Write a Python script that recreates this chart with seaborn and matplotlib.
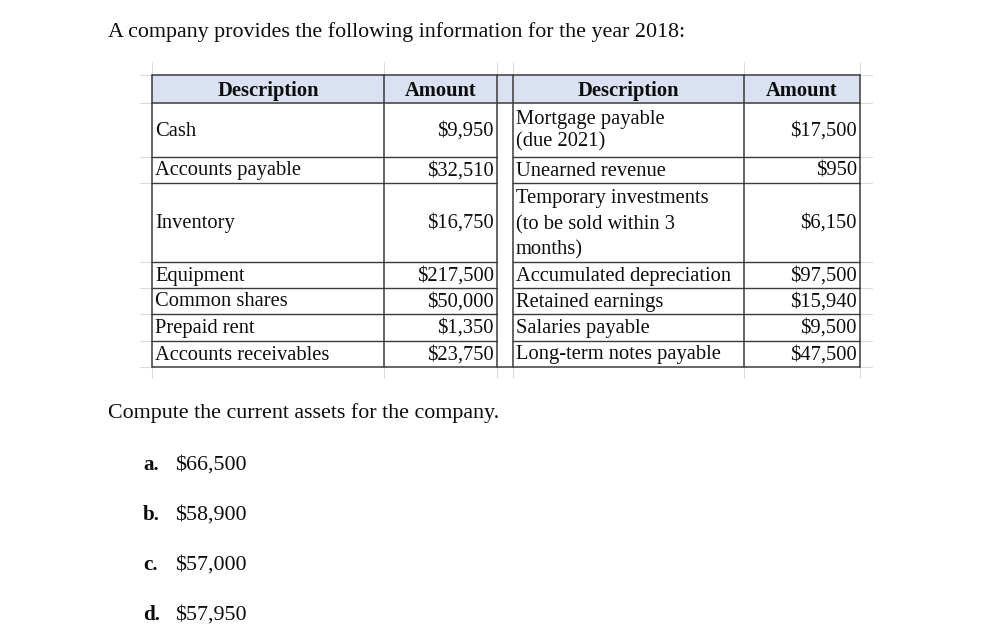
import matplotlib
matplotlib.use("Agg")
import matplotlib.pyplot as plt
from matplotlib.patches import Rectangle
import seaborn as sns

# question text
title = "A company provides the following information for the year 2018:"
question = "Compute the current assets for the company."

# table data
headers = ["Description", "Amount", "Description", "Amount"]
left_desc = ["Cash", "Accounts payable", "Inventory", "Equipment",
             "Common shares", "Prepaid rent", "Accounts receivables"]
left_amt = [9950, 32510, 16750, 217500, 50000, 1350, 23750]
right_desc = ["Mortgage payable\n(due 2021)", "Unearned revenue",
              "Temporary investments\n(to be sold within 3\nmonths)",
              "Accumulated depreciation", "Retained earnings",
              "Salaries payable", "Long-term notes payable"]
right_amt = [17500, 950, 6150, 97500, 15940, 9500, 47500]

# answer choices
opt_letters = ["a.", "b.", "c.", "d."]
opt_values = [66500, 58900, 57000, 57950]

sns.set_theme(style="white")
plt.rcParams['font.family'] = ['Liberation Serif', 'DejaVu Serif']

W, H = 982, 641
fig = plt.figure(figsize=(W / 100, H / 100), dpi=100)
ax = fig.add_axes([0, 0, 1, 1])
ax.set_xlim(0, W)
ax.set_ylim(H, 0)
ax.axis("off")

fs_text = 15.8   # paragraph text
fs_tab = 14.8    # table text
ink = "#0d0d0d"
line_c = "#3a3a3a"
grid_c = "#dcdcdc"

# layout (pixels)
cols = [152, 384, 497, 513, 744, 860]
rows = [75, 103, 157, 183, 262, 288, 314, 341, 367]
spacing = [1.22, 1.1, 1.44, 1.1, 1.1, 1.1, 1.1]
shift = [1, 1, 2, 1, 1, 1, 1]

# faint spreadsheet grid stubs outside the table
for x in cols:
    ax.plot([x, x], [62, rows[0]], color=grid_c, lw=0.8)
    ax.plot([x, x], [rows[-1], 378], color=grid_c, lw=0.8)
for y in rows:
    ax.plot([140, cols[0]], [y, y], color=grid_c, lw=0.8)
    ax.plot([cols[-1], 872], [y, y], color=grid_c, lw=0.8)

# header fill
ax.add_patch(Rectangle((cols[0], rows[0]), cols[-1] - cols[0], rows[1] - rows[0],
                       facecolor="#d9e1f2", edgecolor="none"))

# horizontal borders
for i, y in enumerate(rows):
    if i in (0, 1, len(rows) - 1):
        ax.plot([cols[0], cols[-1]], [y, y], color=line_c, lw=1.1)
    else:
        ax.plot([cols[0], cols[2]], [y, y], color=line_c, lw=1.0)
        ax.plot([cols[3], cols[-1]], [y, y], color=line_c, lw=1.0)
# vertical borders
for x in cols:
    ax.plot([x, x], [rows[0], rows[-1]], color=line_c, lw=1.1)

# header text
hdr_cols = [(cols[0], cols[1]), (cols[1], cols[2]), (cols[3], cols[4]), (cols[4], cols[5])]
for (x0, x1), h in zip(hdr_cols, headers):
    ax.text((x0 + x1) / 2, (rows[0] + rows[1]) / 2 + 2, h, ha="center", va="center",
            fontsize=fs_tab, fontweight="bold", color=ink)

def money(v):
    return "${:,}".format(v)

for i in range(len(left_desc)):
    yc = (rows[i + 1] + rows[i + 2]) / 2 + 1
    ax.text(cols[0] + 3, yc, left_desc[i], ha="left", va="center", fontsize=fs_tab, color=ink)
    ax.text(cols[2] - 3, yc, money(left_amt[i]), ha="right", va="center", fontsize=fs_tab, color=ink)
    ax.text(cols[3] + 3, yc + shift[i] - 1, right_desc[i], ha="left", va="center", fontsize=fs_tab,
            color=ink, linespacing=spacing[i])
    ax.text(cols[5] - 3, yc, money(right_amt[i]), ha="right", va="center", fontsize=fs_tab, color=ink)

ax.text(108, 32, title, ha="left", va="center", fontsize=fs_text, color=ink)
ax.text(108, 413, question, ha="left", va="center", fontsize=fs_text, color=ink)

for k, (l, v) in enumerate(zip(opt_letters, opt_values)):
    y = 465 + 50 * k
    ax.text(143, y, l, ha="left", va="center", fontsize=fs_text - 0.6, fontweight="bold", color=ink)
    ax.text(175, y, money(v), ha="left", va="center", fontsize=fs_text, color=ink)

fig.savefig("out.png", dpi=100, facecolor="white")
